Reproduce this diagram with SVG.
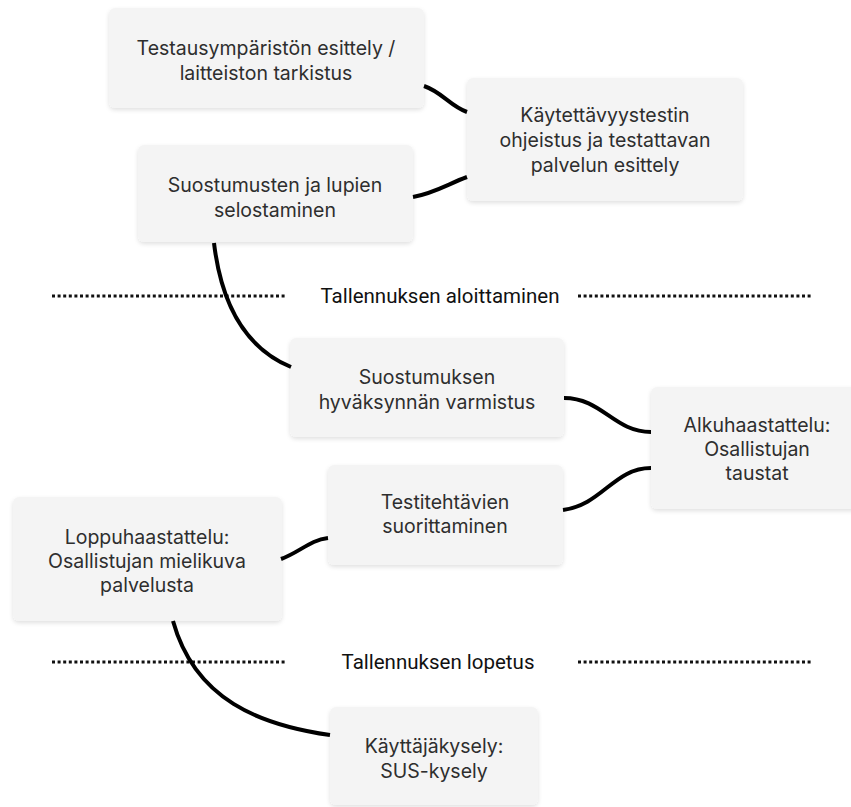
<svg xmlns="http://www.w3.org/2000/svg" width="851" height="807" viewBox="0 0 851 807">
<defs>
<filter id="sh" x="-10%" y="-10%" width="120%" height="130%">
<feDropShadow dx="0" dy="2" stdDeviation="2" flood-color="#000" flood-opacity="0.12"/>
</filter>
<style>
.box{fill:#f4f4f4;filter:url(#sh);}
.t{font-family:Inter,"Noto Sans",sans-serif;font-size:19.5px;fill:#2e2e2e;text-anchor:middle;}
.d{font-family:Roboto,"Liberation Sans",sans-serif;font-size:20.5px;fill:#111;text-anchor:middle;}
.c{fill:none;stroke:#000;stroke-width:4;}
.dot{stroke:#111;stroke-width:3;stroke-dasharray:3 2.6;}
</style>
</defs>
<rect width="851" height="807" fill="#fff"/>
<g id="dividers">
<line class="dot" x1="52" y1="296" x2="287" y2="296"/>
<text class="d" x="440" y="303">Tallennuksen aloittaminen</text>
<line class="dot" x1="578" y1="296" x2="813" y2="296"/>
<line class="dot" x1="52" y1="662" x2="287" y2="662"/>
<text class="d" x="438" y="669">Tallennuksen lopetus</text>
<line class="dot" x1="578" y1="662" x2="813" y2="662"/>
</g>
<g id="n1"><rect class="box" x="109" y="8" width="315" height="100" rx="6"/>
<text class="t" x="266" y="55">Testausympäristön esittely /</text>
<text class="t" x="266" y="80">laitteiston tarkistus</text></g>
<g id="n2"><rect class="box" x="467" y="78" width="276" height="123" rx="6"/>
<text class="t" x="605" y="122">Käytettävyystestin</text>
<text class="t" x="605" y="147">ohjeistus ja testattavan</text>
<text class="t" x="605" y="172">palvelun esittely</text></g>
<g id="n3"><rect class="box" x="138" y="145" width="275" height="97" rx="6"/>
<text class="t" x="275" y="192">Suostumusten ja lupien</text>
<text class="t" x="275" y="217">selostaminen</text></g>
<g id="n4"><rect class="box" x="290" y="338" width="274" height="99" rx="6"/>
<text class="t" x="427" y="384">Suostumuksen</text>
<text class="t" x="427" y="409">hyväksynnän varmistus</text></g>
<g id="n5"><rect class="box" x="651" y="387" width="215" height="122" rx="6"/>
<text class="t" x="757" y="432">Alkuhaastattelu:</text>
<text class="t" x="757" y="456">Osallistujan</text>
<text class="t" x="757" y="480">taustat</text></g>
<g id="n6"><rect class="box" x="328" y="465" width="235" height="100" rx="6"/>
<text class="t" x="445" y="509">Testitehtävien</text>
<text class="t" x="445" y="533">suorittaminen</text></g>
<g id="n7"><rect class="box" x="13" y="497" width="269" height="124" rx="6"/>
<text class="t" x="147" y="544">Loppuhaastattelu:</text>
<text class="t" x="147" y="568">Osallistujan mielikuva</text>
<text class="t" x="147" y="592">palvelusta</text></g>
<g id="n8"><rect class="box" x="330" y="707" width="208" height="98" rx="6"/>
<text class="t" x="434" y="753">Käyttäjäkysely:</text>
<text class="t" x="434" y="778">SUS-kysely</text></g>
<g id="connectors">
<path class="c" d="M424,86 C442,92 450,106 467,112"/>
<path class="c" d="M413,197 C435,193 448,184 467,177"/>
<path class="c" d="M214,243 C222,310 250,350 291,367"/>
<path class="c" d="M564,398 C602,398 614,432 651,432"/>
<path class="c" d="M563,510 C602,505 614,468 651,468"/>
<path class="c" d="M281,559 C300,552 310,540 328,538"/>
<path class="c" d="M173,621 C195,700 260,725 330,735"/>
</g>
</svg>
